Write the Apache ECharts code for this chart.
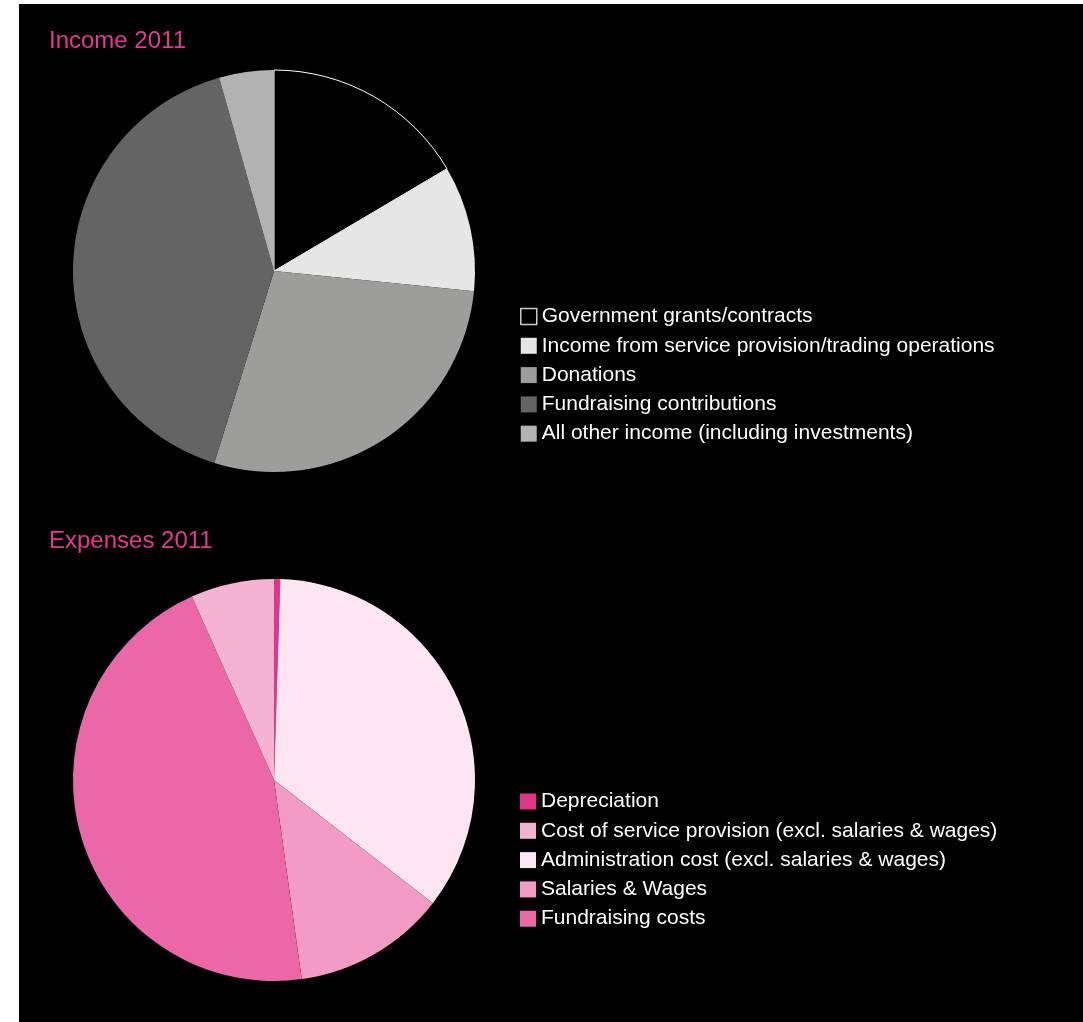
<!DOCTYPE html>
<html>
<head>
<meta charset="utf-8">
<script src="https://cdn.jsdelivr.net/npm/echarts@6/dist/echarts.min.js"></script>
<style>
  html, body { margin: 0; padding: 0; background: #fff; }
  #chart { position: absolute; left: 19px; top: 4px; width: 1064px; height: 1018px; background: #000; }
</style>
</head>
<body>
<div id="chart"></div>
<script>
// 收入数据（按饼图顺时针顺序）
var incomeNames = [
  'Government grants/contracts',
  'Income from service provision/trading operations',
  'Donations',
  'Fundraising contributions',
  'All other income (including investments)'
];
var incomeValues = [16.5, 10.1, 28.2, 40.8, 4.4];
var incomeColors = ['#000000', '#e6e6e6', '#9d9d9c', '#646464', '#b2b2b2'];

// 支出数据（按饼图顺时针顺序）
var expenseNames = [
  'Depreciation',
  'Administration cost (excl. salaries & wages)',
  'Salaries & Wages',
  'Fundraising costs',
  'Cost of service provision (excl. salaries & wages)'
];
var expenseValues = [0.5, 35.0, 12.3, 45.5, 6.7];
var expenseColors = ['#e2348b', '#fde6f1', '#f29bc6', '#ec67a8', '#f4b3d3'];

// 图例顺序
var expenseLegend = [
  'Depreciation',
  'Cost of service provision (excl. salaries & wages)',
  'Administration cost (excl. salaries & wages)',
  'Salaries & Wages',
  'Fundraising costs'
];

var fontFamily = '"Liberation Sans", Arial, Helvetica, sans-serif';

function buildData(names, values, colors) {
  return names.map(function (n, i) {
    return { name: n, value: values[i], itemStyle: { color: colors[i] } };
  });
}

var incomeData = buildData(incomeNames, incomeValues, incomeColors);
incomeData[0].itemStyle.borderColor = '#ffffff';
incomeData[0].itemStyle.borderWidth = 1;

var legendText = { color: '#ffffff', fontSize: 21, fontFamily: fontFamily };

var chart = echarts.init(document.getElementById('chart'));
var option = {
  animation: false,
  title: [
    { text: 'Income 2011', left: 25, top: 20,
      textStyle: { color: '#e6388d', fontSize: 24, fontWeight: 'normal', fontFamily: fontFamily } },
    { text: 'Expenses 2011', left: 25, top: 520,
      textStyle: { color: '#e6388d', fontSize: 24, fontWeight: 'normal', fontFamily: fontFamily } }
  ],
  legend: [
    {
      orient: 'vertical',
      left: 501,
      top: 302,
      padding: 0,
      itemWidth: 16,
      itemHeight: 16,
      itemGap: 8.3,
      icon: 'rect',
      textStyle: legendText,
      data: incomeNames.map(function (n, i) {
        if (i === 0) {
          return { name: n, itemStyle: { color: '#000', borderColor: '#cccccc', borderWidth: 1.5 } };
        }
        return { name: n, itemStyle: { borderWidth: 0 } };
      }),
      selectedMode: false
    },
    {
      orient: 'vertical',
      left: 501,
      top: 787,
      padding: 0,
      itemWidth: 16,
      itemHeight: 16,
      itemGap: 8.3,
      icon: 'rect',
      textStyle: legendText,
      data: expenseLegend,
      selectedMode: false
    }
  ],
  series: [
    {
      name: 'Income 2011',
      type: 'pie',
      center: [255, 267],
      radius: [0, 201],
      startAngle: 90,
      clockwise: true,
      label: { show: false },
      labelLine: { show: false },
      emphasis: { disabled: true },
      data: incomeData
    },
    {
      name: 'Expenses 2011',
      type: 'pie',
      center: [255, 776],
      radius: [0, 201],
      startAngle: 90,
      clockwise: true,
      label: { show: false },
      labelLine: { show: false },
      emphasis: { disabled: true },
      data: buildData(expenseNames, expenseValues, expenseColors)
    }
  ]
};
chart.setOption(option);

window.addEventListener('resize', function () {
  chart.resize();
});
</script>
</body>
</html>
